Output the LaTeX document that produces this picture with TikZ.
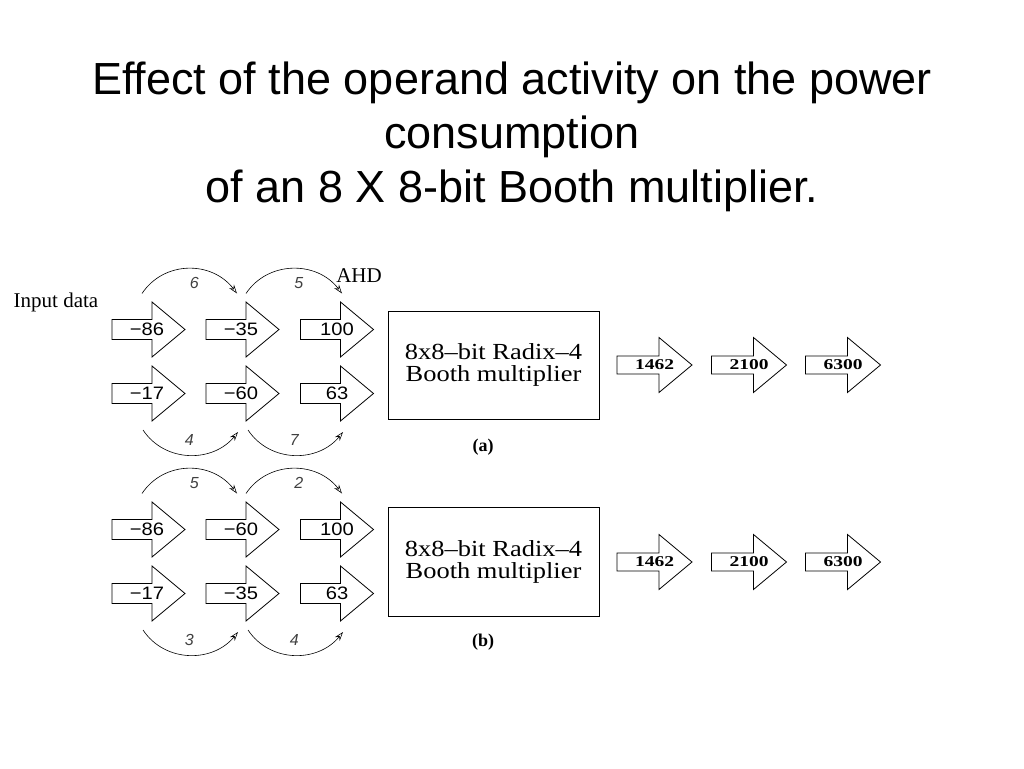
\documentclass[tikz,border=0pt]{standalone}
\usepackage{fontspec}
\setmainfont{Liberation Serif}
\newfontfamily\headfont[Ligatures=NoCommon]{Liberation Sans}
\newfontfamily\numfont[FakeStretch=1.12]{Liberation Sans}
\newfontfamily\boxfont[FakeStretch=1.15]{Liberation Serif}
\newfontfamily\outfont[FakeStretch=1.3]{Liberation Serif Bold}
\usetikzlibrary{arrows.meta,positioning}

\begin{document}
\begin{tikzpicture}[x=1pt,y=-1pt,
inarrow/.style={inner sep=0pt,font=\numfont\fontsize{18}{18}\selectfont},
outarrow/.style={inner sep=0pt,font=\outfont\fontsize{15}{15}\selectfont},
outline/.style={draw,line width=0.8pt,line join=miter},
booth/.style={draw,line width=1pt,minimum width=211pt,minimum height=108pt,align=center,
  font=\boxfont\fontsize{23}{22}\selectfont},
arc/.style={-{Stealth[open,length=9pt,width=6pt]},line width=0.6pt},
ahd/.style={inner sep=1pt,text=black!75,font=\headfont\itshape\fontsize{16}{16}\selectfont},
caption/.style={font=\bfseries\fontsize{18}{18}\selectfont}]
\useasboundingbox (0,0) rectangle (1024,768);

\node[anchor=north,align=center,inner sep=0pt,font=\headfont\fontsize{45}{54}\selectfont] (title) at (512,62)
{Effect of the operand activity on the power\\consumption\\of an 8 X 8-bit Booth multiplier.};
\node[font=\fontsize{21}{21}\selectfont] (input) at (56,302) {Input data};
\node[font=\fontsize{21}{21}\selectfont] (ahdlab) at (359,276) {AHD};

% (a)
\node[inarrow] (a11) at (147,329.5) {−86};
\node[inarrow] (a12) at (241,329.5) {−35};
\node[inarrow] (a13) at (337,329.5) {100};
\node[inarrow] (a21) at (147,393.5) {−17};
\node[inarrow] (a22) at (241,393.5) {−60};
\node[inarrow] (a23) at (337,393.5) {63};
\node[booth] (boxa) at (493.5,365) {8x8–bit Radix–4\\Booth multiplier};
\node[caption] (capa) at (483,447) {(a)};
\node[outarrow] (oa1) at (654.5,365) {1462};
\node[outarrow] (oa2) at (749,365) {2100};
\node[outarrow] (oa3) at (843,365) {6300};
\draw[arc] ([shift={(-5,-36)}]a11.center) .. controls +(22,-33) and +(-25,-33) .. node[ahd,midway,below=7pt,xshift=6pt] {6} ([shift={(-4,-36)}]a12.center);
\draw[arc] ([shift={(5,-36)}]a12.center) .. controls +(22,-33) and +(-25,-33) .. node[ahd,midway,below=7pt,xshift=6pt] {5} ([shift={(5,-36)}]a13.center);
\draw[arc] ([shift={(-4,36.5)}]a21.center) .. controls +(22,33) and +(-25,31) .. node[ahd,midway,above=8pt] {4} ([shift={(-3,38.5)}]a22.center);
\draw[arc] ([shift={(7,36.5)}]a22.center) .. controls +(22,33) and +(-25,31) .. node[ahd,midway,above=8pt] {7} ([shift={(6,38.5)}]a23.center);

% (b)
\node[inarrow] (b11) at (147,529.5) {−86};
\node[inarrow] (b12) at (241,529.5) {−60};
\node[inarrow] (b13) at (337,529.5) {100};
\node[inarrow] (b21) at (147,593.5) {−17};
\node[inarrow] (b22) at (241,593.5) {−35};
\node[inarrow] (b23) at (337,593.5) {63};
\node[booth,minimum height=109pt] (boxb) at (493.5,561.5) {8x8–bit Radix–4\\Booth multiplier};
\node[caption] (capb) at (483,642) {(b)};
\node[outarrow] (ob1) at (654.5,562) {1462};
\node[outarrow] (ob2) at (749,562) {2100};
\node[outarrow] (ob3) at (843,562) {6300};
\draw[arc] ([shift={(-5,-36)}]b11.center) .. controls +(22,-33) and +(-25,-33) .. node[ahd,midway,below=7pt,xshift=6pt] {5} ([shift={(-4,-36)}]b12.center);
\draw[arc] ([shift={(5,-36)}]b12.center) .. controls +(22,-33) and +(-25,-33) .. node[ahd,midway,below=7pt,xshift=6pt] {2} ([shift={(5,-36)}]b13.center);
\draw[arc] ([shift={(-4,36.5)}]b21.center) .. controls +(22,33) and +(-25,31) .. node[ahd,midway,above=8pt] {3} ([shift={(-3,38.5)}]b22.center);
\draw[arc] ([shift={(7,36.5)}]b22.center) .. controls +(22,33) and +(-25,31) .. node[ahd,midway,above=8pt] {4} ([shift={(6,38.5)}]b23.center);

% arrow outlines round the data values
\foreach \n/\dx in {a11/1.5,a12/1.5,a13/0,a21/1.5,a22/1.5,a23/0,b11/1.5,b12/1.5,b13/0,b21/1.5,b22/1.5,b23/0}
  \draw[outline,shift={(\n.center)},xshift=\dx] (-36.5,-10) -- (3.5,-10) -- (3.5,-27.5) -- (36.5,0)
    -- (3.5,27.5) -- (3.5,10) -- (-36.5,10) -- cycle;
\foreach \n in {oa1,oa2,oa3,ob1,ob2,ob3}
  \draw[outline,shift={(\n.center)}] (-37.5,-9) -- (4.5,-9) -- (4.5,-27.5) -- (37.5,0)
    -- (4.5,27.5) -- (4.5,9) -- (-37.5,9) -- cycle;
\end{tikzpicture}
\end{document}
